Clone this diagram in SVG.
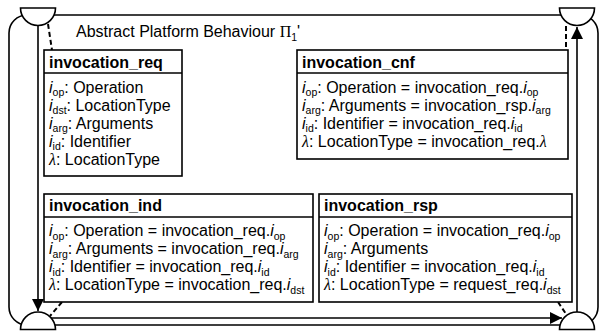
<svg xmlns="http://www.w3.org/2000/svg" width="603" height="332" viewBox="0 0 603 332">
<style>
.ln{fill:none;stroke:#000;stroke-width:1.6}
.dash{fill:none;stroke:#000;stroke-width:2;stroke-dasharray:5,3}
.sap{fill:#fff;stroke:#000;stroke-width:1.6}
.box{fill:#fff;stroke:#000;stroke-width:1.6}
text{font-family:"Liberation Sans",Arial,sans-serif;font-size:16px;fill:#000}
.h{font-weight:bold}
.it{font-style:italic}
.sub{font-size:10.5px}
.lam{font-family:"Liberation Serif","Times New Roman",serif;font-style:italic}
.ser{font-family:"Liberation Serif","Times New Roman",serif}
</style>
<defs>
<marker id="arr" markerUnits="userSpaceOnUse" markerWidth="12" markerHeight="12" viewBox="0 0 10 10" refX="10" refY="5" orient="auto">
<path d="M0,0 L10,5 L0,10 Z" fill="#000"/>
</marker>
</defs>
<g id="behaviour">
<rect class="ln" x="9" y="15" width="589" height="310" rx="18" ry="18"/>
<text x="76" y="37">Abstract Platform Behaviour <tspan class="ser">Π</tspan><tspan class="sub" dy="3.5">1</tspan><tspan dy="-3.5">'</tspan></text>
</g>
<g id="connectors">
<line class="ln" x1="38" y1="25" x2="38" y2="311" marker-end="url(#arr)"/>
<line class="ln" x1="577" y1="312" x2="577" y2="27" marker-end="url(#arr)"/>
<line class="ln" x1="51" y1="318" x2="562" y2="318" marker-end="url(#arr)"/>
<line class="dash" x1="48" y1="24" x2="52" y2="50"/>
<line class="dash" x1="566" y1="26" x2="566" y2="50"/>
<line class="dash" x1="62" y1="302" x2="50" y2="316"/>
<line class="dash" x1="558" y1="302" x2="566" y2="314"/>
</g>
<g id="sap_tl"><path class="sap" d="M20.5,8 H55.5 A17.5,17.5 0 0 1 20.5,8 Z"/></g>
<g id="sap_tr"><path class="sap" d="M559.5,8 H594.5 A17.5,17.5 0 0 1 559.5,8 Z"/></g>
<g id="sap_bl"><path class="sap" d="M20.5,329.5 A17.5,17.5 0 0 1 55.5,329.5 Z"/></g>
<g id="sap_br"><path class="sap" d="M559.5,329.5 A17.5,17.5 0 0 1 594.5,329.5 Z"/></g>
<g id="invocation_req">
<rect class="box" x="44" y="50" width="138" height="126"/>
<line class="ln" x1="44" y1="73" x2="182" y2="73"/>
<text class="h" x="49" y="68">invocation_req</text>
<text x="49" y="92.5"><tspan class="it">i</tspan><tspan class="sub" dy="3.5">op</tspan><tspan dy="-3.5">: Operation</tspan></text>
<text x="49" y="110.5"><tspan class="it">i</tspan><tspan class="sub" dy="3.5">dst</tspan><tspan dy="-3.5">: LocationType</tspan></text>
<text x="49" y="128.5"><tspan class="it">i</tspan><tspan class="sub" dy="3.5">arg</tspan><tspan dy="-3.5">: Arguments</tspan></text>
<text x="49" y="146.5"><tspan class="it">i</tspan><tspan class="sub" dy="3.5">id</tspan><tspan dy="-3.5">: Identifier</tspan></text>
<text x="49" y="164.5"><tspan class="lam">λ</tspan>: LocationType</text>
</g>
<g id="invocation_cnf">
<rect class="box" x="297" y="50" width="271" height="109"/>
<line class="ln" x1="297" y1="73" x2="568" y2="73"/>
<text class="h" x="302" y="68">invocation_cnf</text>
<text x="302" y="92.5"><tspan class="it">i</tspan><tspan class="sub" dy="3.5">op</tspan><tspan dy="-3.5">: Operation = invocation_req.</tspan><tspan class="it">i</tspan><tspan class="sub" dy="3.5">op</tspan></text>
<text x="302" y="110.5"><tspan class="it">i</tspan><tspan class="sub" dy="3.5">arg</tspan><tspan dy="-3.5">: Arguments = invocation_rsp.</tspan><tspan class="it">i</tspan><tspan class="sub" dy="3.5">arg</tspan></text>
<text x="302" y="128.5"><tspan class="it">i</tspan><tspan class="sub" dy="3.5">id</tspan><tspan dy="-3.5">: Identifier = invocation_req.</tspan><tspan class="it">i</tspan><tspan class="sub" dy="3.5">id</tspan></text>
<text x="302" y="146.5"><tspan class="lam">λ</tspan>: LocationType = invocation_req.<tspan class="lam">λ</tspan></text>
</g>
<g id="invocation_ind">
<rect class="box" x="44" y="194" width="269" height="108"/>
<line class="ln" x1="44" y1="217" x2="313" y2="217"/>
<text class="h" x="49" y="211">invocation_ind</text>
<text x="49" y="236"><tspan class="it">i</tspan><tspan class="sub" dy="3.5">op</tspan><tspan dy="-3.5">: Operation = invocation_req.</tspan><tspan class="it">i</tspan><tspan class="sub" dy="3.5">op</tspan></text>
<text x="49" y="254"><tspan class="it">i</tspan><tspan class="sub" dy="3.5">arg</tspan><tspan dy="-3.5">: Arguments = invocation_req.</tspan><tspan class="it">i</tspan><tspan class="sub" dy="3.5">arg</tspan></text>
<text x="49" y="272"><tspan class="it">i</tspan><tspan class="sub" dy="3.5">id</tspan><tspan dy="-3.5">: Identifier = invocation_req.</tspan><tspan class="it">i</tspan><tspan class="sub" dy="3.5">id</tspan></text>
<text x="49" y="290"><tspan class="lam">λ</tspan>: LocationType = invocation_req.<tspan class="it">i</tspan><tspan class="sub" dy="3.5">dst</tspan></text>
</g>
<g id="invocation_rsp">
<rect class="box" x="319" y="194" width="253" height="108"/>
<line class="ln" x1="319" y1="217" x2="572" y2="217"/>
<text class="h" x="324" y="211">invocation_rsp</text>
<text x="324" y="236"><tspan class="it">i</tspan><tspan class="sub" dy="3.5">op</tspan><tspan dy="-3.5">: Operation = invocation_req.</tspan><tspan class="it">i</tspan><tspan class="sub" dy="3.5">op</tspan></text>
<text x="324" y="254"><tspan class="it">i</tspan><tspan class="sub" dy="3.5">arg</tspan><tspan dy="-3.5">: Arguments</tspan></text>
<text x="324" y="272"><tspan class="it">i</tspan><tspan class="sub" dy="3.5">id</tspan><tspan dy="-3.5">: Identifier = invocation_req.</tspan><tspan class="it">i</tspan><tspan class="sub" dy="3.5">id</tspan></text>
<text x="324" y="290"><tspan class="lam">λ</tspan>: LocationType = request_req.<tspan class="it">i</tspan><tspan class="sub" dy="3.5">dst</tspan></text>
</g>
</svg>
